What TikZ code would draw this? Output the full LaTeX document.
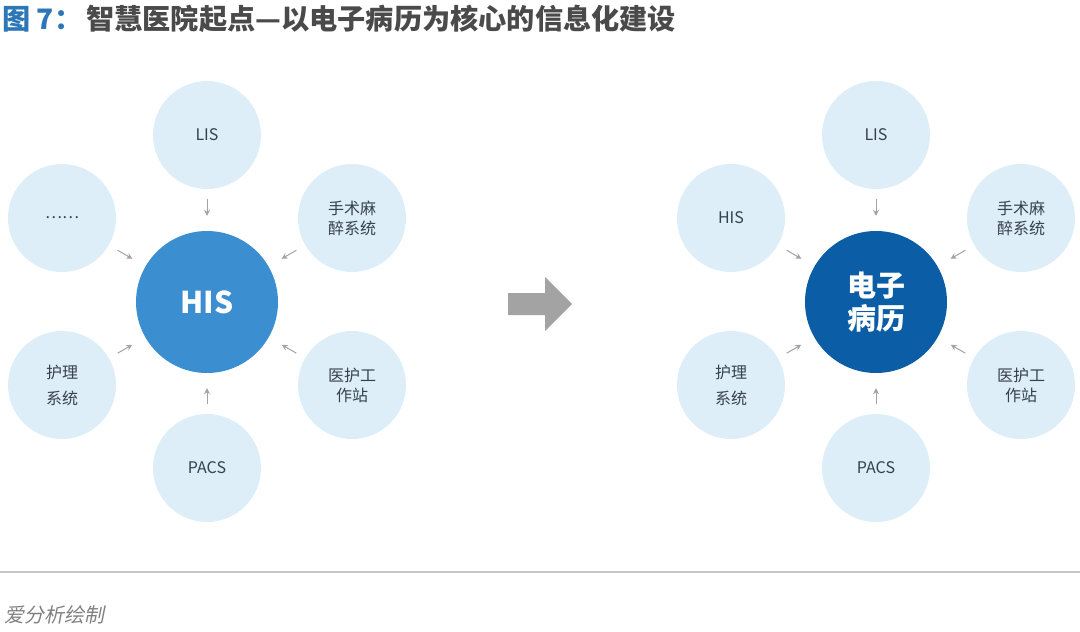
\documentclass[tikz,border=0pt]{standalone}
\usepackage{fontspec}
\setmainfont{Noto Sans CJK SC}
\newfontfamily\slantcjk[FakeSlant=0.2]{Noto Sans CJK SC}
\usetikzlibrary{arrows.meta}

\definecolor{petalblue}{HTML}{DDEEF8}
\definecolor{hisblue}{HTML}{3B8FD1}
\definecolor{emrblue}{HTML}{0B5DA5}
\definecolor{txtgray}{HTML}{37414D}
\definecolor{arrgray}{HTML}{A3A3A3}
\definecolor{titleblue}{HTML}{2D77B7}
\definecolor{titlegray}{HTML}{4A4A4A}

\begin{document}
\begin{tikzpicture}[x=1pt,y=-1pt,
    petal/.style={circle,fill=petalblue,minimum size=108pt,inner sep=0pt,
      font=\fontsize{16}{20}\selectfont,text=txtgray,align=center},
    core/.style={circle,minimum size=142pt,inner sep=0pt,text=white,align=center},
    feed/.style={-{Stealth[length=6pt,width=6pt]},arrgray,line width=1pt,
      shorten <=10pt,shorten >=15pt}]
    \useasboundingbox (0,0) rectangle (1080,632);
    % title
    \node[anchor=west,inner sep=0pt,font=\fontsize{28.2}{30}\selectfont\bfseries] (title) at (2,19)
      {\textcolor{titleblue}{图 7：}\hspace{4pt}\textcolor{titlegray}{智慧医院起点—以电子病历为核心的信息化建设}};
    % left: HIS as core
    \node[core,fill=hisblue,font=\fontsize{30}{34}\selectfont\bfseries] (his) at (207,302) {HIS};
    \node[petal] (lLIS) at (207,135) {LIS};
    \node[petal] (lDots) at (62,218) {……};
    \node[petal] (lSurg) at (352,218) {手术麻\\醉系统};
    \node[petal,font=\fontsize{16}{26}\selectfont] (lNurse) at (62,385) {护理\\系统};
    \node[petal] (lDoc) at (352,385) {医护工\\作站};
    \node[petal] (lPACS) at (207,468) {PACS};
    \foreach \p in {lLIS,lDots,lSurg,lNurse,lDoc,lPACS}{\draw[feed] (\p) -- (his);}
    % big arrow
    \coordinate (go) at (508,293);
    \fill[arrgray] (go) -- ++(37,0) -- ++(0,-16) -- ++(27,27) -- ++(-27,27) -- ++(0,-16) -- ++(-37,0) -- cycle;
    % right: EMR as core
    \node[core,fill=emrblue,font=\fontsize{29}{33}\selectfont\bfseries] (emr) at (876,302) {电子\\病历};
    \node[petal] (rLIS) at (876,135) {LIS};
    \node[petal] (rHIS) at (731,218) {HIS};
    \node[petal] (rSurg) at (1021,218) {手术麻\\醉系统};
    \node[petal,font=\fontsize{16}{26}\selectfont] (rNurse) at (731,385) {护理\\系统};
    \node[petal] (rDoc) at (1021,385) {医护工\\作站};
    \node[petal] (rPACS) at (876,468) {PACS};
    \foreach \p in {rLIS,rHIS,rSurg,rNurse,rDoc,rPACS}{\draw[feed] (\p) -- (emr);}
    % footer
    \draw[gray!45,line width=1.3pt] (0,572) -- (1080,572);
    \node[anchor=west,inner sep=0pt,text=gray,font=\fontsize{20}{24}\slantcjk] (src) at (4,615) {爱分析绘制};
\end{tikzpicture}
\end{document}
